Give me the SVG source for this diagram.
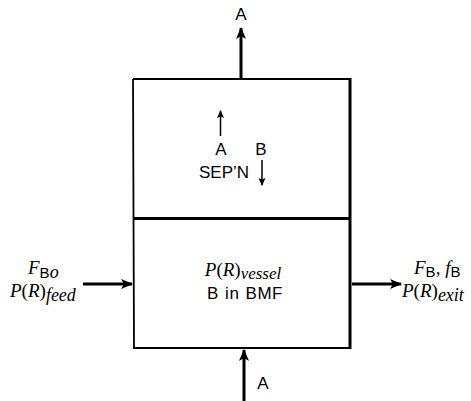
<svg xmlns="http://www.w3.org/2000/svg" width="471" height="401" viewBox="0 0 471 401">
<style>
.s{font-family:"Liberation Sans",Arial,sans-serif;font-size:17px;fill:#000}
.sb{font-family:"Liberation Sans",Arial,sans-serif;font-size:15px;font-style:normal}
.m{font-family:"Liberation Serif","Times New Roman",serif;font-size:19px;fill:#000}
.i{font-style:italic}
.ln{stroke:#000;fill:none}
</style>
<defs>
<marker id="ah" markerWidth="12" markerHeight="10" refX="11" refY="5" orient="auto" markerUnits="userSpaceOnUse">
<path d="M0,0 L12,5 L0,10 L3,5 Z" fill="#000"/>
</marker>
<marker id="ahs" markerWidth="8" markerHeight="8" refX="7" refY="4" orient="auto" markerUnits="userSpaceOnUse">
<path d="M0,0.5 L8,4 L0,7.5 L1.5,4 Z" fill="#000"/>
</marker>
</defs>
<g id="vessel">
<path class="ln" stroke-width="1.8" d="M133,79 L350,79 M133,79 L134,348 L350,348"/>
<line class="ln" stroke-width="3" x1="350" y1="78" x2="350" y2="349"/>
<line class="ln" stroke-width="3" x1="133" y1="218.5" x2="351" y2="218.5"/>
</g>
<g id="sep">
<text class="s" x="221" y="155" text-anchor="middle">A</text>
<text class="s" x="261" y="155" text-anchor="middle">B</text>
<text class="s" x="224" y="178" text-anchor="middle">SEP’N</text>
</g>
<g id="bmf">
<text class="m" x="243" y="276" text-anchor="middle"><tspan class="i">P</tspan>(<tspan class="i">R</tspan>)<tspan class="i" font-size="17" dy="3">vessel</tspan></text>
<text class="s" x="245" y="299" text-anchor="middle" letter-spacing="0.5" word-spacing="1">B in BMF</text>
</g>
<g id="feed">
<text class="m" x="28" y="274"><tspan class="i">F</tspan><tspan class="sb" dy="4">B</tspan><tspan class="i" font-size="18">o</tspan></text>
<text class="m" x="10" y="297"><tspan class="i">P</tspan>(<tspan class="i">R</tspan>)<tspan class="i" font-size="18" dy="4">feed</tspan></text>
</g>
<g id="exit">
<text class="m" x="414" y="274"><tspan class="i">F</tspan><tspan class="sb" dy="3">B</tspan><tspan dy="-3">, </tspan><tspan class="i">f</tspan><tspan class="sb" dy="3">B</tspan></text>
<text class="m" x="402" y="297"><tspan class="i">P</tspan>(<tspan class="i">R</tspan>)<tspan class="i" font-size="18" dy="4">exit</tspan></text>
</g>
<g id="labels">
<text class="s" x="241" y="20" text-anchor="middle">A</text>
<text class="s" x="263" y="389" text-anchor="middle">A</text>
</g>
<g id="connectors">
<line class="ln" stroke-width="3" x1="241" y1="79" x2="241" y2="28" marker-end="url(#ah)"/>
<line class="ln" stroke-width="3" x1="244" y1="401" x2="244" y2="350" marker-end="url(#ah)"/>
<line class="ln" stroke-width="3" x1="83" y1="284" x2="132" y2="284" marker-end="url(#ah)"/>
<line class="ln" stroke-width="3" x1="352" y1="284" x2="401" y2="284" marker-end="url(#ah)"/>
<line class="ln" stroke-width="1.5" x1="220.5" y1="136" x2="220.5" y2="111" marker-end="url(#ahs)"/>
<line class="ln" stroke-width="1.5" x1="262" y1="160" x2="262" y2="185" marker-end="url(#ahs)"/>
</g>
</svg>
